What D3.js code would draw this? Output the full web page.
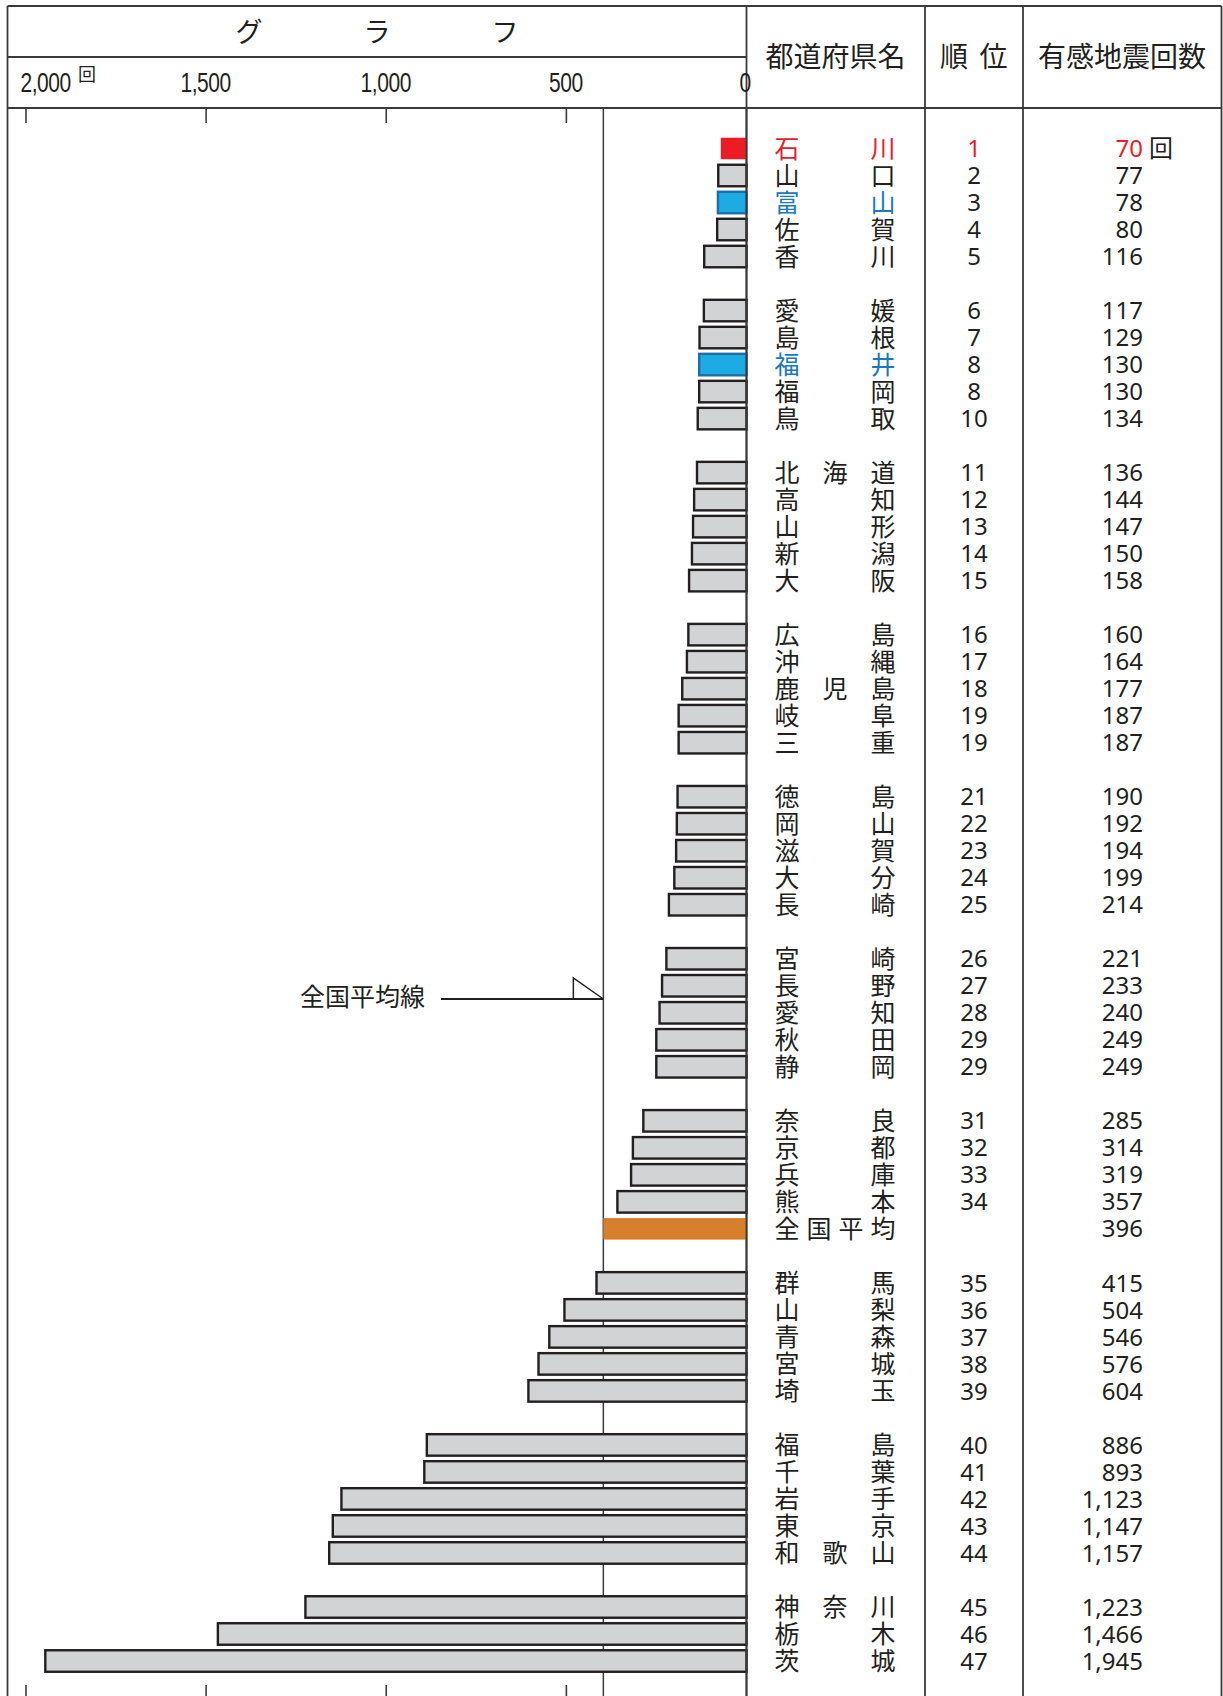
<!DOCTYPE html>
<html><head><meta charset="utf-8">
<script src="https://cdn.jsdelivr.net/npm/d3@7"></script>
<style>
html,body{margin:0;padding:0;background:#fff;}
svg{display:block;}
</style></head>
<body>
<script>
// ---- data ----
const prefNames = ["石川","山口","富山","佐賀","香川","愛媛","島根","福井","福岡","鳥取","北海道","高知","山形","新潟","大阪","広島","沖縄","鹿児島","岐阜","三重","徳島","岡山","滋賀","大分","長崎","宮崎","長野","愛知","秋田","静岡","奈良","京都","兵庫","熊本","全国平均","群馬","山梨","青森","宮城","埼玉","福島","千葉","岩手","東京","和歌山","神奈川","栃木","茨城"];
const quakeCounts = [70,77,78,80,116,117,129,130,130,134,136,144,147,150,158,160,164,177,187,187,190,192,194,199,214,221,233,240,249,249,285,314,319,357,396,415,504,546,576,604,886,893,1123,1147,1157,1223,1466,1945];
const ranks = ["1","2","3","4","5","6","7","8","8","10","11","12","13","14","15","16","17","18","19","19","21","22","23","24","25","26","27","28","29","29","31","32","33","34","","35","36","37","38","39","40","41","42","43","44","45","46","47"];
const averageLabel = "全国平均";
const averageValue = 396;
const focusPrefs = ["石川"];
const neighborPrefs = ["富山","福井"];
const tickValues = [2000,1500,1000,500,0];
const titleChars = ["グ","ラ","フ"];
const headerName = "都道府県名";
const headerRank = ["順","位"];
const headerCount = "有感地震回数";
const unit = "回";
const avgLineLabel = "全国平均線";

// ---- layout ----
const W = 1223, H = 1696;
const CJK = "'Noto Sans CJK JP','Noto Sans',sans-serif";
const NUM = "'Noto Sans','Noto Sans CJK JP',sans-serif";
const AXF = "'Liberation Sans',Arial,sans-serif";
const ink = "#231f20";
const L = 7.5, T = 6, R = 1221.5;
const zeroX = 746.5, col2 = 925, col3 = 1023;
const titleLineY = 57, headY = 108;

const svg = d3.select("body").append("svg").attr("width", W).attr("height", H);

const x = d3.scaleLinear().domain([0, 2000]).range([zeroX - 0.5, 25.5]);
const slot = i => Math.floor(i / 5) * 6 + (i % 5);
const y = d3.scaleLinear().domain([0, 56]).range([148.5, 1661]);

// frame lines
const lines = [
  [L, T, R, T], [L, T, L, H], [R, T, R, H],
  [L, titleLineY, zeroX, titleLineY],
  [L, headY, R, headY],
  [zeroX, T, zeroX, H], [col2, T, col2, H], [col3, T, col3, H]
];
svg.append("g").selectAll("line").data(lines).join("line")
  .attr("x1", d => d[0]).attr("y1", d => d[1]).attr("x2", d => d[2]).attr("y2", d => d[3])
  .attr("stroke", "#3a3a3a").attr("stroke-width", 1.8);

// title
svg.append("g").selectAll("text").data(titleChars).join("text")
  .attr("x", (d, i) => 249 + i * 128).attr("y", 32).attr("dy", "0.36em")
  .attr("text-anchor", "middle").attr("font-family", CJK).attr("font-size", 27)
  .attr("fill", ink).text(d => d);

// axis tick labels (condensed)
const tl = svg.append("g").attr("font-family", AXF).attr("font-size", 28).attr("fill", ink);
tl.selectAll("text").data(tickValues).join("text")
  .attr("transform", d => `translate(${d === 2000 ? 20.5 : (d === 0 ? 745 : x(d))},91.5) scale(0.75,1)`)
  .attr("text-anchor", d => d === 2000 ? "start" : "middle")
  .attr("letter-spacing", -0.6)
  .text(d => d3.format(",")(d));
svg.append("text").attr("x", 78).attr("y", 81).attr("font-family", CJK)
  .attr("font-size", 18).attr("fill", ink).text(unit);

// ticks top & bottom
const tickVals = tickValues.filter(v => v > 0);
svg.append("g").attr("transform", `translate(0,${headY})`)
  .call(d3.axisBottom(x).tickValues(tickVals).tickSize(15).tickFormat(""))
  .call(g => g.select(".domain").remove())
  .call(g => g.selectAll("line").attr("stroke", "#3a3a3a").attr("stroke-width", 1.6));
svg.append("g").attr("transform", `translate(0,${H})`)
  .call(d3.axisTop(x).tickValues(tickVals).tickSize(11).tickFormat(""))
  .call(g => g.select(".domain").remove())
  .call(g => g.selectAll("line").attr("stroke", "#3a3a3a").attr("stroke-width", 1.6));

// average vertical line
svg.append("line").attr("x1", x(averageValue)).attr("x2", x(averageValue))
  .attr("y1", headY).attr("y2", H).attr("stroke", "#3a3a3a").attr("stroke-width", 1.5);

// headers
const hd = svg.append("g").attr("font-family", CJK).attr("font-size", 28).attr("fill", ink).attr("text-anchor", "middle");
hd.append("text").attr("x", 835.5).attr("y", 57).attr("dy", "0.36em").text(headerName);
hd.selectAll(".hr").data(headerRank).join("text").attr("class", "hr")
  .attr("x", (d, i) => 954 + i * 39.5).attr("y", 57).attr("dy", "0.36em").text(d => d);
hd.append("text").attr("x", 1122).attr("y", 57).attr("dy", "0.36em").text(headerCount);

// rows
const rows = prefNames.map((n, i) => ({name: n, value: quakeCounts[i], rank: ranks[i], i}));
const fillOf = d => d.name === averageLabel ? "#d6802b" : focusPrefs.includes(d.name) ? "#ed1c24" : neighborPrefs.includes(d.name) ? "#1cabe2" : "#d1d3d4";
const strokeOf = d => d.name === averageLabel || focusPrefs.includes(d.name) ? "none" : neighborPrefs.includes(d.name) ? "#1d6fa5" : ink;
const textColor = d => focusPrefs.includes(d.name) ? "#e8202a" : neighborPrefs.includes(d.name) ? "#1a78bf" : ink;

const bh = 21.5;
svg.append("g").selectAll("rect").data(rows).join("rect")
  .attr("x", d => x(d.value)).attr("width", d => zeroX - x(d.value))
  .attr("y", d => y(slot(d.i)) - bh / 2).attr("height", bh)
  .attr("fill", fillOf).attr("stroke", strokeOf).attr("stroke-width", 2.4);

// redraw zero line on top
svg.append("line").attr("x1", zeroX).attr("x2", zeroX).attr("y1", headY).attr("y2", H)
  .attr("stroke", "#3a3a3a").attr("stroke-width", 1.8);

// names
const nameChars = [];
rows.forEach(d => {
  const chars = Array.from(d.name);
  const n = chars.length;
  chars.forEach((c, k) => {
    let cx;
    if (n === 4) cx = 787 + k * 32;
    else if (n === 3) cx = 787 + k * 48;
    else cx = k === 0 ? 787 : 883;
    nameChars.push({c, cx, cy: y(slot(d.i)), color: textColor(d)});
  });
});
svg.append("g").attr("font-family", CJK).attr("font-size", 25).attr("text-anchor", "middle")
  .selectAll("text").data(nameChars).join("text")
  .attr("x", d => d.cx).attr("y", d => d.cy).attr("dy", "0.36em")
  .attr("fill", d => d.color).text(d => d.c);

// ranks
svg.append("g").attr("font-family", NUM).attr("font-size", 24).attr("text-anchor", "middle")
  .selectAll("text").data(rows.filter(d => d.rank !== "")).join("text")
  .attr("x", 974).attr("y", d => y(slot(d.i))).attr("dy", "0.36em")
  .attr("fill", d => focusPrefs.includes(d.name) ? "#e8202a" : ink).text(d => d.rank);

// counts
svg.append("g").attr("font-family", NUM).attr("font-size", 24).attr("text-anchor", "end")
  .selectAll("text").data(rows).join("text")
  .attr("x", 1143).attr("y", d => y(slot(d.i))).attr("dy", "0.36em")
  .attr("fill", d => focusPrefs.includes(d.name) ? "#e8202a" : ink).text(d => d3.format(",")(d.value));
svg.append("text").attr("x", 1149).attr("y", y(0)).attr("dy", "0.36em")
  .attr("font-family", CJK).attr("font-size", 24).attr("fill", ink).text(unit);

// average line annotation
const ay = 999, ax = x(averageValue);
svg.append("text").attr("x", 300).attr("y", 997).attr("dy", "0.36em")
  .attr("font-family", CJK).attr("font-size", 25).attr("fill", ink).text(avgLineLabel);
svg.append("line").attr("x1", 441).attr("x2", ax).attr("y1", ay).attr("y2", ay)
  .attr("stroke", ink).attr("stroke-width", 1.8);
svg.append("path").attr("d", `M${ax - 30},${ay} L${ax - 30},${ay - 21} L${ax},${ay}`)
  .attr("fill", "none").attr("stroke", ink).attr("stroke-width", 1.5);
</script>
</body></html>
